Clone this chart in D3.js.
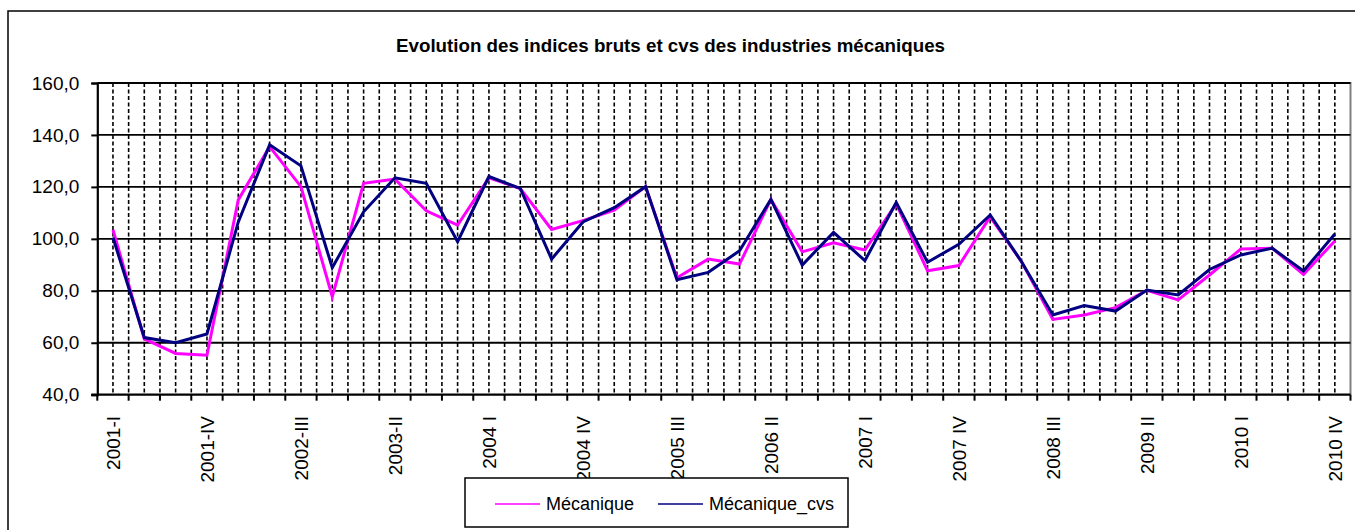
<!DOCTYPE html>
<html lang="fr">
<head>
<meta charset="UTF-8">
<title>Evolution des indices bruts et cvs des industries mécaniques</title>
<script src="https://cdn.jsdelivr.net/npm/d3@7"></script>
<style>
  body { margin: 0; background: #fff; }
  svg { display: block; font-family: Arial, "Liberation Sans", sans-serif; }
</style>
</head>
<body>
<svg id="chart"></svg>
<script>
var quarters = [
  "2001-I", "2001-II", "2001-III", "2001-IV",
  "2002-I", "2002-II", "2002-III", "2002-IV",
  "2003-I", "2003-II", "2003-III", "2003-IV",
  "2004 I", "2004 II", "2004 III", "2004 IV",
  "2005 I", "2005 II", "2005 III", "2005 IV",
  "2006 I", "2006 II", "2006 III", "2006 IV",
  "2007 I", "2007 II", "2007 III", "2007 IV",
  "2008 I", "2008 II", "2008 III", "2008 IV",
  "2009 I", "2009 II", "2009 III", "2009 IV",
  "2010 I", "2010 II", "2010 III", "2010 IV"
];
// raw index
var mecanique = [
  103.5, 61.5, 55.9, 55.2, 115.0, 135.5, 120.1, 77.7,
  121.4, 123.0, 110.8, 105.3, 123.5, 119.4, 103.6, 107.0,
  111.0, 120.1, 85.0, 92.2, 90.3, 115.2, 95.0, 98.5,
  95.7, 113.5, 87.7, 89.7, 108.5, 91.2, 69.0, 70.7,
  73.5, 80.2, 76.5, 86.1, 96.1, 96.4, 86.3, 99.2
];
// seasonally adjusted
var mecaniqueCvs = [
  100.5, 62.0, 60.0, 63.4, 106.5, 136.2, 128.1, 88.9,
  110.4, 123.5, 121.4, 98.9, 124.0, 119.4, 92.2, 106.5,
  112.0, 120.1, 84.3, 87.1, 95.4, 115.2, 89.9, 102.5,
  91.6, 114.0, 91.0, 97.9, 109.2, 91.2, 70.7, 74.3,
  72.2, 80.3, 78.4, 88.2, 93.8, 96.4, 87.6, 101.9
];
var yTicks = [40, 60, 80, 100, 120, 140, 160];
var labelEvery = 3;

var W = 1355, H = 530;
var svg = d3.select("#chart").attr("width", W).attr("height", H);

var plot = {left: 97.3, right: 1350.5, top: 83, bottom: 394.7};

var x = d3.scaleBand().domain(quarters).range([plot.left, plot.right]).padding(0);
var y = d3.scaleLinear().domain([40, 160]).range([plot.bottom, plot.top]);
var cx = function(q) { return x(q) + x.bandwidth() / 2; };

// outer frame
svg.append("rect")
  .attr("x", 8).attr("y", 11)
  .attr("width", W + 20).attr("height", H + 20)
  .attr("fill", "#fff").attr("stroke", "#000").attr("stroke-width", 1.5);

svg.append("text")
  .attr("x", 396).attr("y", 52)
  .attr("font-size", "17.5px").attr("font-weight", "bold")
  .attr("textLength", 549).attr("lengthAdjust", "spacingAndGlyphs")
  .text("Evolution des indices bruts et cvs des industries mécaniques");

// plot border (gray top/right)
svg.append("path")
  .attr("d", "M" + plot.left + "," + plot.top + "H" + plot.right + "V" + plot.bottom)
  .attr("fill", "none").attr("stroke", "#808080").attr("stroke-width", 2);

// dashed vertical grid: at every category center and boundary
var vLines = [];
quarters.forEach(function(q, i) {
  vLines.push(cx(q));
  if (i > 0) vLines.push(x(q));
});
svg.append("g").selectAll("line").data(vLines).join("line")
  .attr("x1", function(d) { return d; }).attr("x2", function(d) { return d; })
  .attr("y1", plot.top).attr("y2", plot.bottom)
  .attr("stroke", "#000").attr("stroke-width", 1.6)
  .attr("stroke-dasharray", "4,2.5");

// horizontal grid
svg.append("g").selectAll("line").data(yTicks.slice(1)).join("line")
  .attr("x1", plot.left).attr("x2", plot.right)
  .attr("y1", function(d) { return y(d); }).attr("y2", function(d) { return y(d); })
  .attr("stroke", "#000").attr("stroke-width", 1.8);

// y axis
var yAxis = d3.axisLeft(y).tickValues(yTicks).tickSize(6).tickPadding(12)
  .tickFormat(function(d) { return d3.format(".1f")(d).replace(".", ","); });
var gy = svg.append("g").attr("transform", "translate(" + plot.left + ",0)").call(yAxis);
gy.select(".domain").attr("stroke-width", 2.2);
gy.selectAll(".tick line").attr("stroke-width", 2);
gy.selectAll("text").attr("font-size", "19px").attr("font-family", "Arial, 'Liberation Sans', sans-serif").attr("fill", "#000");

// x axis: ticks at category boundaries
var bounds = quarters.map(function(q) { return x(q); }).concat([plot.right]);
var gx = svg.append("g");
gx.append("line")
  .attr("x1", plot.left - 6).attr("x2", plot.right)
  .attr("y1", plot.bottom).attr("y2", plot.bottom)
  .attr("stroke", "#000").attr("stroke-width", 2.2);
gx.selectAll("line.tk").data(bounds).join("line").attr("class", "tk")
  .attr("x1", function(d) { return d; }).attr("x2", function(d) { return d; })
  .attr("y1", plot.bottom).attr("y2", plot.bottom + 6)
  .attr("stroke", "#000").attr("stroke-width", 2);
gx.selectAll("text").data(quarters.filter(function(q, i) { return i % labelEvery === 0; })).join("text")
  .attr("transform", function(q) { return "translate(" + (cx(q) + 7) + "," + 416 + ") rotate(-90)"; })
  .attr("text-anchor", "end")
  .attr("font-size", "19px")
  .text(function(q) { return q; });

// series
var line = d3.line().x(function(d, i) { return cx(quarters[i]); }).y(function(d) { return y(d); });
svg.append("path").datum(mecanique)
  .attr("d", line).attr("fill", "none")
  .attr("stroke", "#ff00ff").attr("stroke-width", 3).attr("stroke-linejoin", "miter");
svg.append("path").datum(mecaniqueCvs)
  .attr("d", line).attr("fill", "none")
  .attr("stroke", "#000080").attr("stroke-width", 3).attr("stroke-linejoin", "miter");

// legend
var lg = svg.append("g");
lg.append("rect")
  .attr("x", 465).attr("y", 478).attr("width", 383).attr("height", 49)
  .attr("fill", "#fff").attr("stroke", "#000").attr("stroke-width", 1.5);
var entries = [
  {name: "Mécanique", color: "#ff00ff", x0: 495},
  {name: "Mécanique_cvs", color: "#000080", x0: 658}
];
entries.forEach(function(e) {
  lg.append("line")
    .attr("x1", e.x0).attr("x2", e.x0 + 45).attr("y1", 504).attr("y2", 504)
    .attr("stroke", e.color).attr("stroke-width", 1.5);
  lg.append("text")
    .attr("x", e.x0 + 51).attr("y", 510)
    .attr("font-size", "18px")
    .text(e.name);
});
</script>
</body>
</html>
